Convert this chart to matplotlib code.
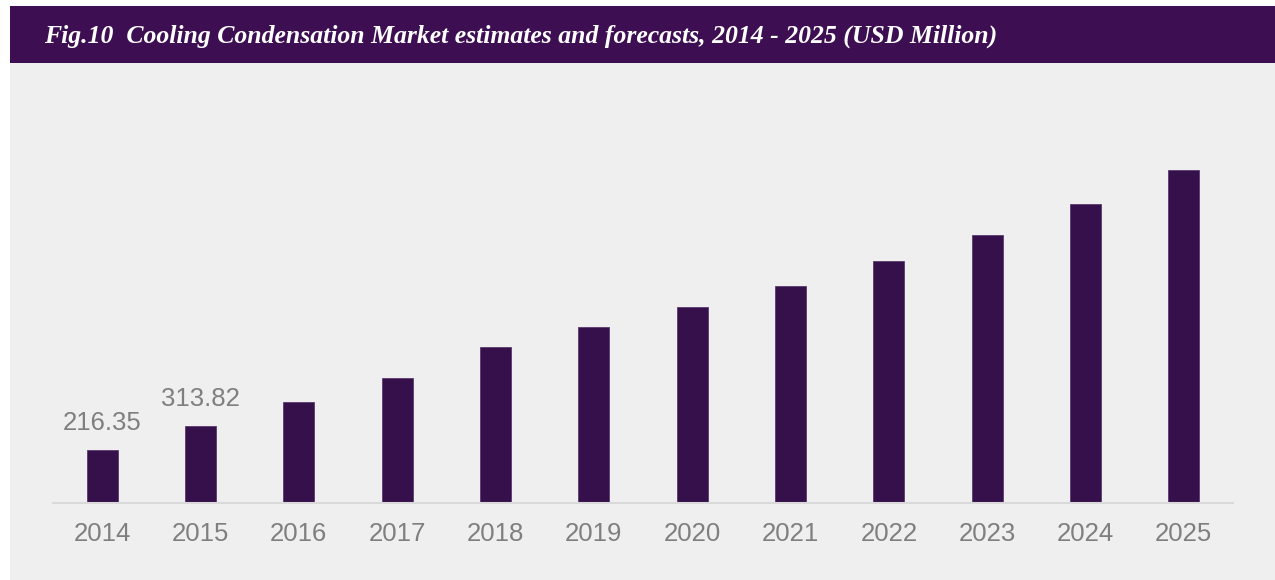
import matplotlib.pyplot as plt
from matplotlib.patches import Rectangle

# Market size, USD Million
years = ["2014", "2015", "2016", "2017", "2018", "2019",
         "2020", "2021", "2022", "2023", "2024", "2025"]
market_size = [216.35, 313.82, 414, 514, 641, 722,
               802, 891, 992, 1100, 1227, 1364]
# only the first two years carry a value label
labelled = {0: "216.35", 1: "313.82"}

W, H = 1275, 580
fig = plt.figure(figsize=(W / 100, H / 100), dpi=100, facecolor="white")

# gray panel and purple header band (pixel positions -> figure fractions)
fig.patches.append(Rectangle((10 / W, 0), 1, (H - 62.7) / H,
                             transform=fig.transFigure, fc="#efefef", ec="none", zorder=-2))
fig.patches.append(Rectangle((10 / W, (H - 62.7) / H), 1, (62.7 - 6) / H,
                             transform=fig.transFigure, fc="#3d0f52", ec="none", zorder=-2))
fig.text(44 / W, (H - 43) / H,
         "Fig.10  Cooling Condensation Market estimates and forecasts, 2014 - 2025 (USD Million)",
         color="white", fontsize=18.5, fontweight="bold", fontstyle="italic",
         family="Liberation Serif", ha="left", va="baseline")

# plot area: baseline at y=503px, x range 53..1233px
ax_left, ax_right = 53, 1233
ax_bottom, ax_top = 503, 100
ax = fig.add_axes([ax_left / W, (H - ax_bottom) / H,
                   (ax_right - ax_left) / W, (ax_bottom - ax_top) / H])
ax.set_facecolor("none")

x = list(range(len(years)))
ax.bar(x, market_size, width=0.315, color="#36104a", edgecolor="#5a3a6e",
       linewidth=0.6, zorder=2)

ax.set_xlim(-0.5, len(years) - 0.5)
ax.set_ylim(0, (ax_bottom - ax_top) * 4.1)

for i, txt in labelled.items():
    ax.annotate(txt, (i, market_size[i]), xytext=(0, 11), textcoords="offset points",
                ha="center", va="bottom", fontsize=18.5, color="#7f7f7f",
                family="Liberation Sans")

for s in ["top", "right", "left"]:
    ax.spines[s].set_visible(False)
ax.spines["bottom"].set_color("#d9d9d9")
ax.spines["bottom"].set_linewidth(1.5)
ax.set_yticks([])
ax.set_xticks(x)
ax.set_xticklabels(years, fontsize=18.5, color="#7f7f7f", family="Liberation Sans")
ax.tick_params(axis="x", length=0, pad=14)

fig.savefig("out.png", dpi=100, facecolor="white")
